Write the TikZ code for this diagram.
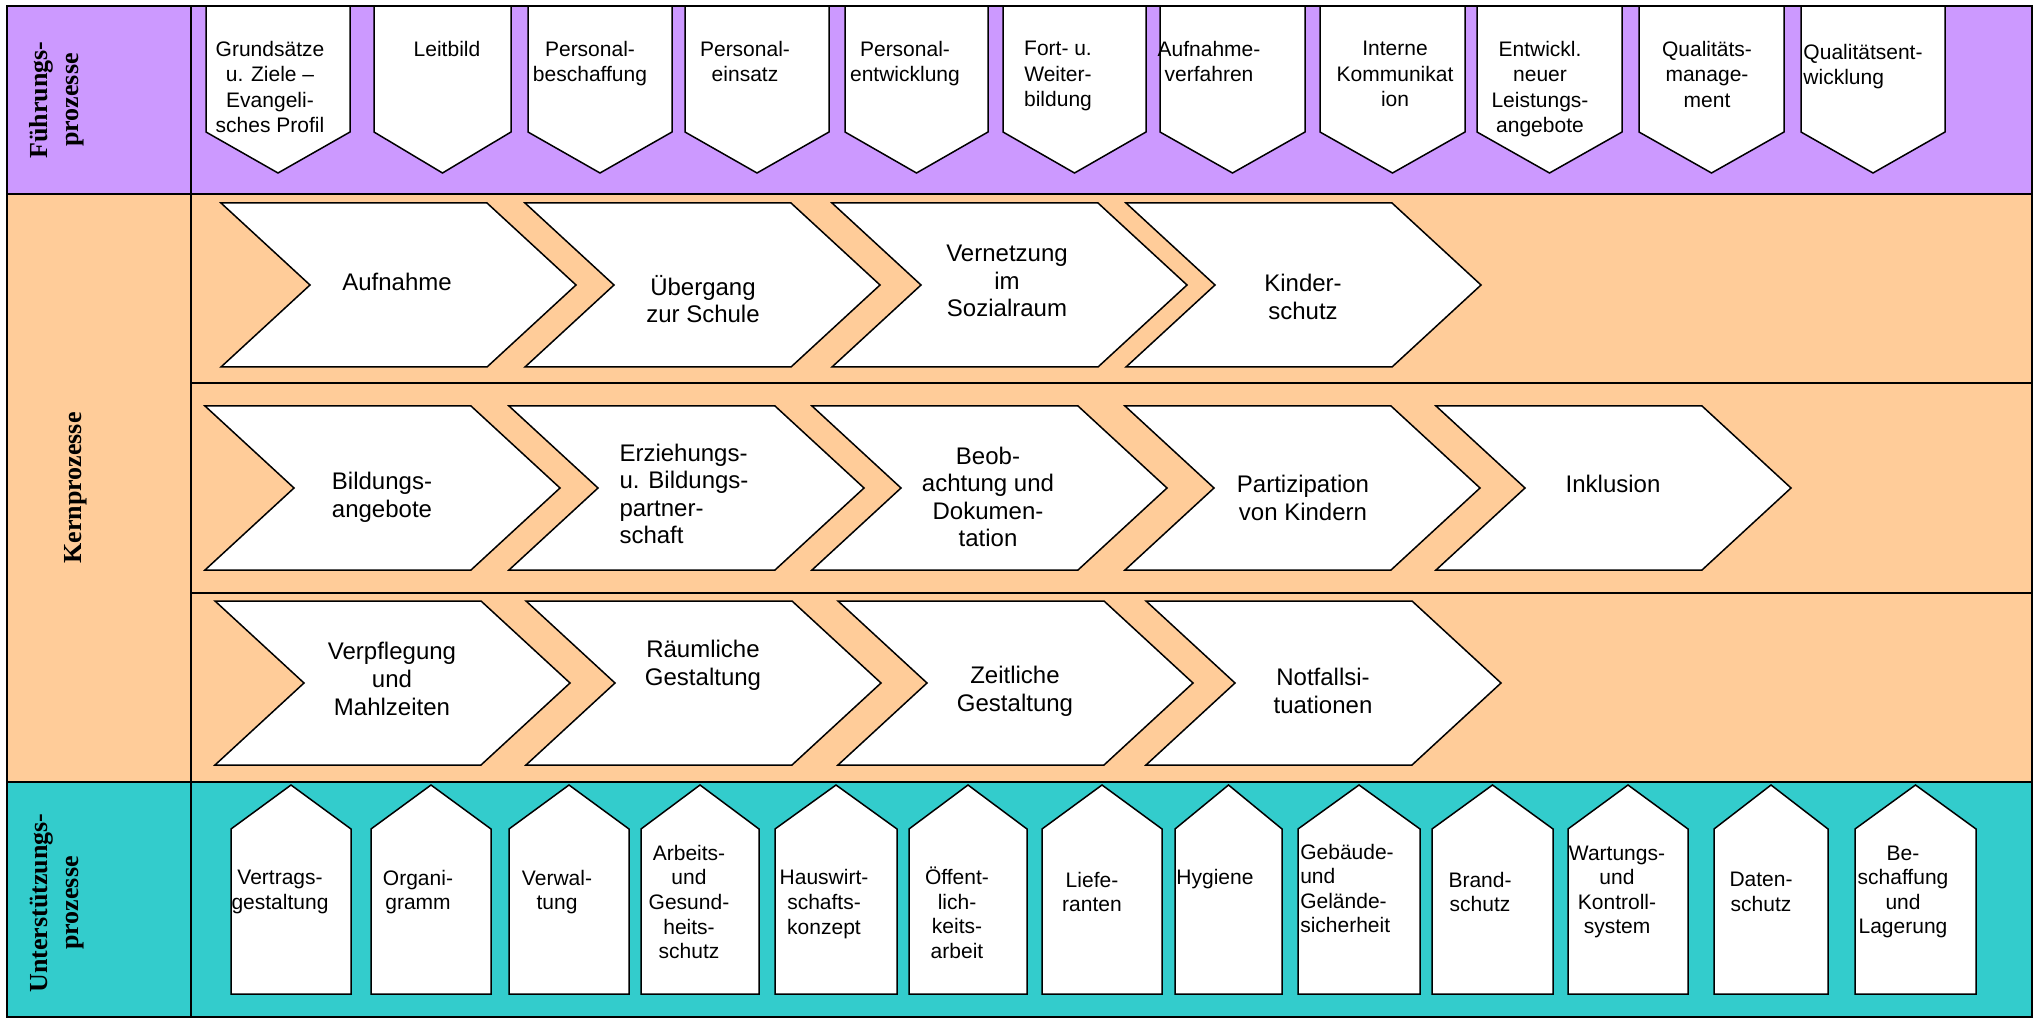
\documentclass[tikz,border=0pt]{standalone}
\usepackage{fontspec}
\setmainfont{Liberation Sans}
\newfontfamily\zeilenfont{Liberation Serif}
\usepackage{tikz}

\definecolor{lila}{HTML}{CC99FF}
\definecolor{pfirsich}{HTML}{FFCC99}
\definecolor{tuerkis}{HTML}{33CCCC}

\begin{document}
\begin{tikzpicture}[x=0.5pt,y=-0.5pt]
\tikzstyle{rahmen}=[line width=1.2pt]
\tikzstyle{kasten}=[draw=black,fill=white,line width=0.75pt]
\tikzstyle{ftext}=[align=center,inner sep=0pt,font=\fontsize{10.5}{12.6}\selectfont]
\tikzstyle{ktext}=[align=center,inner sep=0pt,font=\fontsize{12}{13.8}\selectfont]
\tikzstyle{utext}=[align=center,inner sep=0pt,font=\fontsize{10.5}{12.3}\selectfont]
\tikzstyle{zeile}=[rotate=90,align=center,inner sep=0pt,font=\zeilenfont\bfseries\fontsize{13}{15.5}\selectfont]

\useasboundingbox (0,0) rectangle (2035,1021);
\fill[lila] (7,6) rectangle (2032,194);
\fill[pfirsich] (7,194) rectangle (2032,782);
\fill[tuerkis] (7,782) rectangle (2032,1017);

\node[zeile] (fp) at (57,100) {Führungs-\\prozesse};
\node[zeile] (kp) at (76,488) {Kernprozesse};
\node[zeile] (up) at (57,903) {Unterstützungs-\\prozesse};

\foreach \xl/\xr/\tx/\txt [count=\i] in {206/350/270/{Grundsätze\\u. Ziele –\\Evangeli-\\sches Profil}, 374/511/447/Leitbild, 528/672/590/{Personal-\\beschaffung}, 685/829/745/{Personal-\\einsatz}, 845/988/905/{Personal-\\entwicklung}, 1003/1146/1058/{Fort- u.\\Weiter-\\bildung}, 1160/1305/1209/{Aufnahme-\\verfahren}, 1320/1465/1395/{Interne\\Kommunikat\\ion}, 1477/1622/1540/{Entwickl.\\neuer\\Leistungs-\\angebote}, 1639/1784/1707/{Qualitäts-\\manage-\\ment}, 1801/1945/1863/{\begin{tabular}{@{}l@{}}Qualitätsent-\\wicklung\end{tabular}}}
{
\draw[kasten] (\xl,6) -- (\xr,6) -- (\xr,132) -- ({(\xl+\xr)/2},173) -- (\xl,132) -- cycle;
\node[ftext,anchor=north] (f\i) at (\tx,41) {\txt};
}

\foreach \xl/\yo/\tx/\ty/\txt [count=\i] in {221/203/397/282/Aufnahme, 525/203/703/299/{Übergang\\zur Schule}, 832/203/1007/281/{Vernetzung\\im\\Sozialraum}, 1126/203/1303/297/{Kinder-\\schutz}, 205/406/382/497/{Bildungs-\\angebote}, 509/406/684/497/{\begin{tabular}{@{}l@{}}Erziehungs-\\u. Bildungs-\\partner-\\schaft\end{tabular}}, 812/406/988/497/{Beob-\\achtung und\\Dokumen-\\tation}, 1125/406/1303/498/{Partizipation\\von Kindern}, 1436/406/1613/484/Inklusion, 215/601/392/679/{Verpflegung\\und\\Mahlzeiten}, 526/601/703/665/{Räumliche\\Gestaltung}, 838/601/1015/691/{Zeitliche\\Gestaltung}, 1146/601/1323/691/{Notfallsi-\\tuationen}}
{
\draw[kasten] (\xl,\yo) -- ++(266,0) -- ++(89,82) -- ++(-89,82) -- ++(-266,0) -- ++(89,-82) -- cycle;
\node[ktext] (k\i) at (\tx,\ty) {\txt};
}

\foreach \xl/\xr/\tx/\ty/\txt [count=\i] in {231/351/280/892/{Vertrags-\\gestaltung}, 371/491/418/892/{Organi-\\gramm}, 509/629/557/892/{Verwal-\\tung}, 641/759/689/902/{Arbeits-\\und\\Gesund-\\heits-\\schutz}, 775/897/824/904/{Hauswirt-\\schafts-\\konzept}, 909/1027/957/913/{Öffent-\\lich-\\keits-\\arbeit}, 1042/1162/1092/892/{Liefe-\\ranten}, 1175/1282/1215/879/Hygiene, 1298/1420/1347/891/{\begin{tabular}{@{}l@{}}Gebäude-\\und\\Gelände-\\sicherheit\end{tabular}}, 1432/1553/1480/892/{Brand-\\schutz}, 1568/1688/1617/892/{Wartungs-\\und\\Kontroll-\\system}, 1714/1828/1761/892/{Daten-\\schutz}, 1855/1976/1903/892/{Be-\\schaffung\\und\\Lagerung}}
{
\draw[kasten] (\xl,994) -- (\xl,829) -- ({(\xl+\xr)/2},785) -- (\xr,829) -- (\xr,994) -- cycle;
\node[utext] (u\i) at (\tx,\ty) {\txt};
}

\draw[rahmen] (7,6) rectangle (2032,1017);
\draw[rahmen] (191,6) -- (191,1017);
\draw[rahmen] (7,194) -- (2032,194);
\draw[rahmen] (7,782) -- (2032,782);
\draw[rahmen] (191,383) -- (2032,383);
\draw[rahmen] (191,593) -- (2032,593);
\end{tikzpicture}
\end{document}
